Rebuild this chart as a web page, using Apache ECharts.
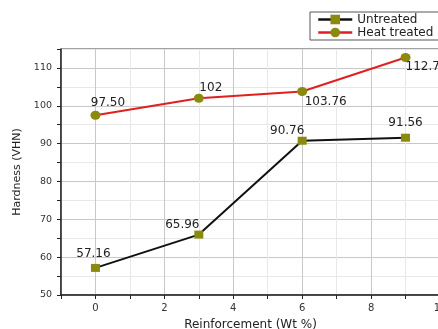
<!DOCTYPE html>
<html>
<head>
<meta charset="utf-8">
<script src="https://cdn.jsdelivr.net/npm/echarts@6/dist/echarts.min.js"></script>
<style>html,body{margin:0;padding:0;background:#fff}#c{width:438px;height:329px}</style>
</head>
<body>
<div id="c"></div>
<script>
var reinforcement = [0, 3, 6, 9];
var untreated = [57.16, 65.96, 90.76, 91.56];
var heatTreated = [97.50, 102, 103.76, 112.76];
var untreatedLabels = ['57.16', '65.96', '90.76', '91.56'];
var heatLabels = ['97.50', '102', '103.76', '112.76'];

// label centre offsets from each point (style only)
var untreatedOffsets = [[-2, -14.5], [-16.5, -10], [-15, -10], [0, -15]];
var heatOffsets = [[12.5, -12.5], [12, -10.5], [23.5, 10.5], [21, 9]];

var FONT = '"DejaVu Sans", Verdana, sans-serif';

function build(xs, ys, labels, offs) {
  return xs.map(function (x, i) {
    return {
      value: [x, ys[i]],
      label: { show: true, position: 'inside', offset: offs[i], formatter: labels[i] }
    };
  });
}

var chart = echarts.init(document.getElementById('c'));
chart.setOption({
  animation: false,
  textStyle: { fontFamily: FONT },
  grid: { left: 61, top: 49, bottom: 34, right: -2, outerBoundsMode: 'none', containLabel: false,
          show: true, borderColor: '#444', borderWidth: 1 },
  legend: {
    left: 310, top: 12, orient: 'vertical', itemGap: 0,
    itemWidth: 34, itemHeight: 12,
    borderColor: '#555', borderWidth: 1, padding: [1, 20, 1, 7],
    lineStyle: { width: 2.5 },
    textStyle: { fontSize: 12, lineHeight: 13, color: '#222', fontFamily: FONT },
    data: ['Untreated', 'Heat treated']
  },
  xAxis: {
    type: 'value', min: -1, max: 10, interval: 1,
    name: 'Reinforcement (Wt %)', nameLocation: 'middle', nameGap: 24,
    nameTextStyle: { fontSize: 12, color: '#222', fontFamily: FONT },
    axisLine: { onZero: false, lineStyle: { color: '#222', width: 1.5 } },
    axisTick: { show: true, length: 4, lineStyle: { color: '#222' } },
    axisLabel: { fontSize: 10, color: '#333', margin: 8, fontFamily: FONT,
      formatter: function (v) { return (v % 2 === 0) ? String(v) : ''; } },
    splitLine: { show: true, lineStyle: { color: ['#e8e8e8', '#c8c8c8'], width: 1 } }
  },
  yAxis: {
    type: 'value', min: 50, max: 115, interval: 5,
    name: 'Hardness (VHN)', nameLocation: 'middle', nameGap: 38,
    nameTextStyle: { fontSize: 11, color: '#222', fontFamily: FONT },
    axisLine: { show: true, onZero: false, lineStyle: { color: '#222', width: 1.5 } },
    axisTick: { show: true, length: 4, lineStyle: { color: '#222' } },
    axisLabel: { fontSize: 9.5, color: '#333', margin: 9, fontFamily: FONT,
      formatter: function (v) { return (v % 10 === 0 && v <= 110) ? String(v) : ''; } },
    splitLine: { show: true, lineStyle: { color: ['#c8c8c8', '#e8e8e8'], width: 1 } }
  },
  series: [
    {
      name: 'Untreated', type: 'line',
      symbol: 'rect', symbolSize: [9, 8],
      itemStyle: { color: '#8a8a0e' },
      lineStyle: { color: '#111', width: 2 },
      label: { fontSize: 12, color: '#222', fontFamily: FONT },
      data: build(reinforcement, untreated, untreatedLabels, untreatedOffsets)
    },
    {
      name: 'Heat treated', type: 'line',
      symbol: 'circle', symbolSize: [10, 9],
      itemStyle: { color: '#8a8a0e' },
      lineStyle: { color: '#e02020', width: 2 },
      label: { fontSize: 12, color: '#222', fontFamily: FONT },
      data: build(reinforcement, heatTreated, heatLabels, heatOffsets)
    }
  ]
});
</script>
</body>
</html>
